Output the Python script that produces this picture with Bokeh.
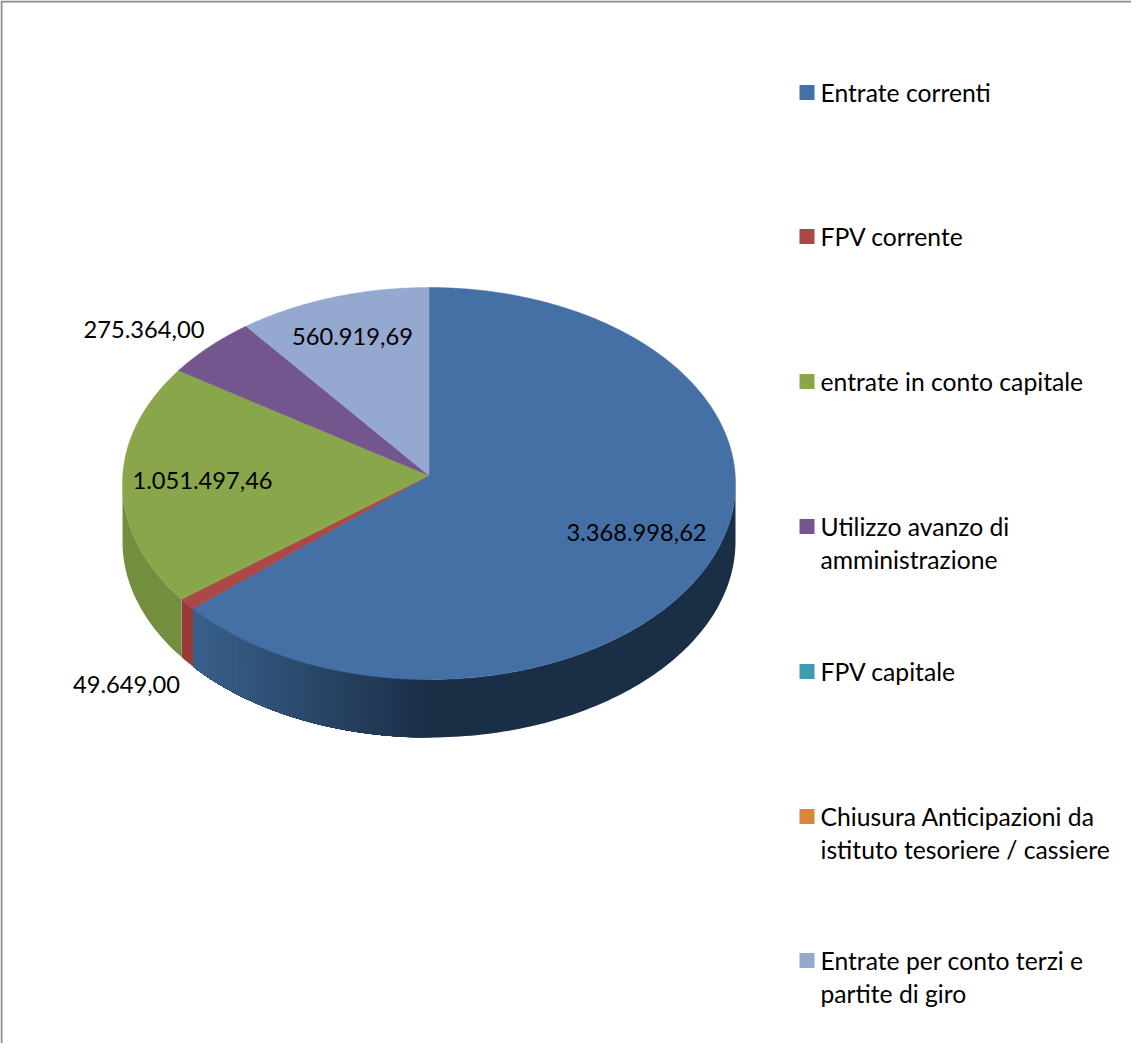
from bokeh.plotting import figure
from bokeh.models import Range1d
from bokeh.core.properties import value
from bokeh.embed import file_html
from bokeh.resources import INLINE
import numpy as np

categories = ["Entrate correnti", "FPV corrente", "entrate in conto capitale",
              "Utilizzo avanzo di\namministrazione", "FPV capitale",
              "Chiusura Anticipazioni da\nistituto tesoriere / cassiere",
              "Entrate per conto terzi e\npartite di giro"]
amounts = [3368998.62, 49649.00, 1051497.46, 275364.00, 0.0, 0.0, 560919.69]
amount_labels = ["3.368.998,62", "49.649,00", "1.051.497,46", "275.364,00", "", "", "560.919,69"]
top_colors = ["#4470A6", "#AB4744", "#8AA64B", "#74568F", "#3F9BB3", "#D9853A", "#94A8D0"]
side_colors = ["#1A2E46", "#993938", "#748E3F", "#5E4674", "#33808F", "#B06C2F", "#7A8BAC"]

# layout, in page pixels
W, H = 1131, 1043
OX, OY = 8, 8
CX, CY, RX, RY, DEPTH = 436.5, 491.0, 306.5, 196.0, 58.0
APEX_SHIFT = -8.0   # perspective: the pie's centre projects above the ellipse's centre
FONT = "Lato"
LABEL_SIZE = "23.7px"
LEGEND_SIZE = "24.7px"
label_pos = [(644, 540), (134, 692), (210, 488), (151.5, 337), None, None, (360, 344)]
legend_x_box, legend_x_text, box = 814.5, 828, 15
legend_y = [100, 244, 389, 534, 679, 824, 968]
legend_line = 33

p = figure(width=W, height=H, x_range=Range1d(OX, OX + W), y_range=Range1d(OY + H, OY),
           output_backend="svg", toolbar_location=None, min_border=0,
           x_axis_type=None, y_axis_type=None, outline_line_color=None,
           background_fill_color="#FFFFFF", border_fill_color="#FFFFFF")
p.xgrid.visible = False
p.ygrid.visible = False

# frame: only the left and top edges are inside the crop
p.line([9, 9, OX + W], [OY + H, 9, 9], line_color="#8C8C8C", line_width=2)

fractions = np.array(amounts) / sum(amounts)
ends = np.cumsum(fractions) * 2 * np.pi
starts = ends - fractions * 2 * np.pi

# homography of the unit circle onto the drawn ellipse
K = APEX_SHIFT / RY
RX0 = RX * np.sqrt(1 - (APEX_SHIFT / RY) ** 2)


def ex(t):
    return CX + RX0 * np.sin(t) / (1 + K * (-np.cos(t)))


def ey(t):
    v = -np.cos(t)
    return CY + (RY * v + APEX_SHIFT) / (1 + K * v)


def mix(c1, c2, f):
    a = [int(c1[i:i + 2], 16) for i in (1, 3, 5)]
    b = [int(c2[i:i + 2], 16) for i in (1, 3, 5)]
    return "#%02X%02X%02X" % tuple(round(u + (v - u) * f) for u, v in zip(a, b))


def wall(a, b):
    t = np.linspace(a, b, max(2, int(np.degrees(b - a)) + 1))
    return list(ex(t)) + list(ex(t[::-1])), list(ey(t)) + list(ey(t[::-1]) + DEPTH)


# side wall of the front half; a lit gradient on the big slice, painted so steps overlap
WALL_LO = np.pi / 2 + np.arcsin(-K)
WALL_HI = 3 * np.pi / 2 - np.arcsin(-K)
xs, ys, cols = [], [], []
for i, (s, e) in enumerate(zip(starts, ends)):
    lo, hi = max(s, WALL_LO), min(e, WALL_HI)
    if hi <= lo:
        continue
    wx, wy = wall(lo, hi)
    xs.append(wx)
    ys.append(wy)
    cols.append(side_colors[i])
    if i == 0:
        edges = np.radians(np.arange(np.degrees(lo), np.degrees(hi), 0.75))
        edges = np.append(edges, hi)
        for a, b in zip(edges[:-1], edges[1:]):
            x_mid = ex((a + b) / 2)
            if x_mid > 440:
                continue
            f = (x_mid - 198) / (440 - 198)
            wx, wy = wall(a, hi)
            xs.append(wx)
            ys.append(wy)
            cols.append(mix("#3A618C", side_colors[0], f))
p.patches(xs, ys, fill_color=cols, line_color=None)

# top face
xs, ys, cols = [], [], []
for i, (s, e) in enumerate(zip(starts, ends)):
    if e <= s:
        continue
    t = np.linspace(s, e, max(3, int(np.degrees(e - s)) * 2))
    xs.append([CX] + list(ex(t)))
    ys.append([CY + APEX_SHIFT] + list(ey(t)))
    cols.append(top_colors[i])
p.patches(xs, ys, fill_color=cols, line_color=cols, line_width=0.5)

# value labels
for lab, pos in zip(amount_labels, label_pos):
    if pos:
        p.text([pos[0]], [pos[1]], text=[lab], text_align="center", text_baseline="middle",
               text_font=value(FONT), text_font_size=LABEL_SIZE, text_color="#000000")

# legend
p.rect([legend_x_box] * len(categories), legend_y, width=box, height=box,
       fill_color=top_colors, line_color=None)
for name, y in zip(categories, legend_y):
    for k, line in enumerate(name.split("\n")):
        p.text([legend_x_text], [y + k * legend_line], text=[line], text_align="left",
               text_baseline="middle", text_font=value(FONT),
               text_font_size=LEGEND_SIZE, text_color="#000000")

open("out.html", "w").write(file_html(p, INLINE))
